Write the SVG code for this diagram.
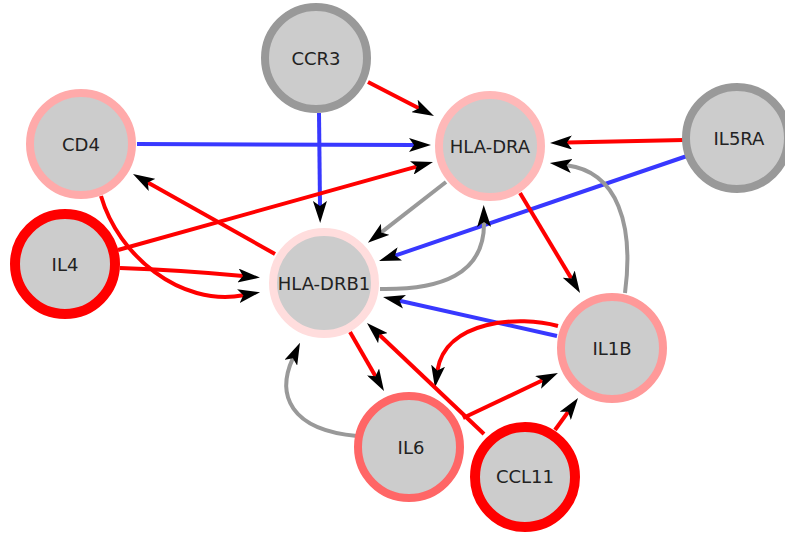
<svg xmlns="http://www.w3.org/2000/svg" width="785" height="533" viewBox="0 0 785 533">
<style>
.e{fill:none;stroke-width:4;marker-end:url(#arr)}
.r{stroke:#ff0000}
.b{stroke:#3838ff}
.g{stroke:#999999}
.n circle{fill:#cccccc}
.n text{font-family:"DejaVu Sans","Liberation Sans",sans-serif;font-size:18px;fill:#222222;text-anchor:middle;dominant-baseline:central}
</style>
<defs>
<marker id="arr" markerUnits="userSpaceOnUse" viewBox="0 -7 22 14" markerWidth="22" markerHeight="14" refX="5" refY="0" orient="auto">
<path d="M22,0 L0,-7 L5,0 L0,7 Z" fill="#000000"/>
</marker>
</defs>
<rect width="785" height="533" fill="#ffffff"/>
<g id="edges">
<path class="e r" d="M368,82 L418.9,108.2"/>
<path class="e b" d="M319,113 L320,206"/>
<path class="e b" d="M137,144 L414,145"/>
<path class="e r" d="M118,250 L416.6,166.6"/>
<path class="e r" d="M275,254 L147.8,182.4"/>
<path class="e r" d="M120,268 Q180,270 243,276"/>
<path class="e r" d="M101,196 C118,255 180,307 243.3,295.3"/>
<path class="e g" d="M446,182 L381.3,232.4"/>
<path class="e r" d="M684,140 L567,142.6"/>
<path class="e b" d="M687,156 L395.1,255.6"/>
<path class="e g" d="M380,289 C440,290 485,275 484,222"/>
<path class="e r" d="M520,193 L571.3,278.4"/>
<path class="e g" d="M625,293 C634,225 618,172 566.7,165.3"/>
<path class="e b" d="M557,336 L399.6,300.7"/>
<path class="e r" d="M558,326 C520,315 445,320 437.4,370.6"/>
<path class="e r" d="M350,332 L375.5,376.3"/>
<path class="e r" d="M484,434 L379.3,334.7"/>
<path class="e g" d="M357,436 C290,430 276,395 292.9,358.2"/>
<path class="e r" d="M463,418 L542.6,380.3"/>
<path class="e r" d="M555,430 L568.1,411.8"/>
</g>
<g id="CCR3" class="n"><circle cx="316" cy="58" r="51" stroke="#999999" stroke-width="8"/><text x="316" y="58">CCR3</text></g>
<g id="CD4" class="n"><circle cx="81" cy="144" r="51" stroke="#ffaaaa" stroke-width="8"/><text x="81" y="144">CD4</text></g>
<g id="IL4" class="n"><circle cx="65" cy="264" r="50" stroke="#ff0000" stroke-width="10"/><text x="65" y="264">IL4</text></g>
<g id="HLA-DRB1" class="n"><circle cx="324" cy="283" r="51" stroke="#ffdddd" stroke-width="8"/><text x="324" y="283">HLA-DRB1</text></g>
<g id="HLA-DRA" class="n"><circle cx="490" cy="146" r="51" stroke="#ffb8b8" stroke-width="8"/><text x="490" y="146">HLA-DRA</text></g>
<g id="IL5RA" class="n"><circle cx="737" cy="138" r="51" stroke="#999999" stroke-width="8"/><text x="739" y="138">IL5RA</text></g>
<g id="IL1B" class="n"><circle cx="612" cy="348" r="51" stroke="#ff9999" stroke-width="8"/><text x="612" y="348">IL1B</text></g>
<g id="IL6" class="n"><circle cx="409" cy="447" r="51" stroke="#ff6666" stroke-width="8"/><text x="411" y="447">IL6</text></g>
<g id="CCL11" class="n"><circle cx="525" cy="477" r="50" stroke="#ff0000" stroke-width="10"/><text x="525" y="476">CCL11</text></g>
</svg>
